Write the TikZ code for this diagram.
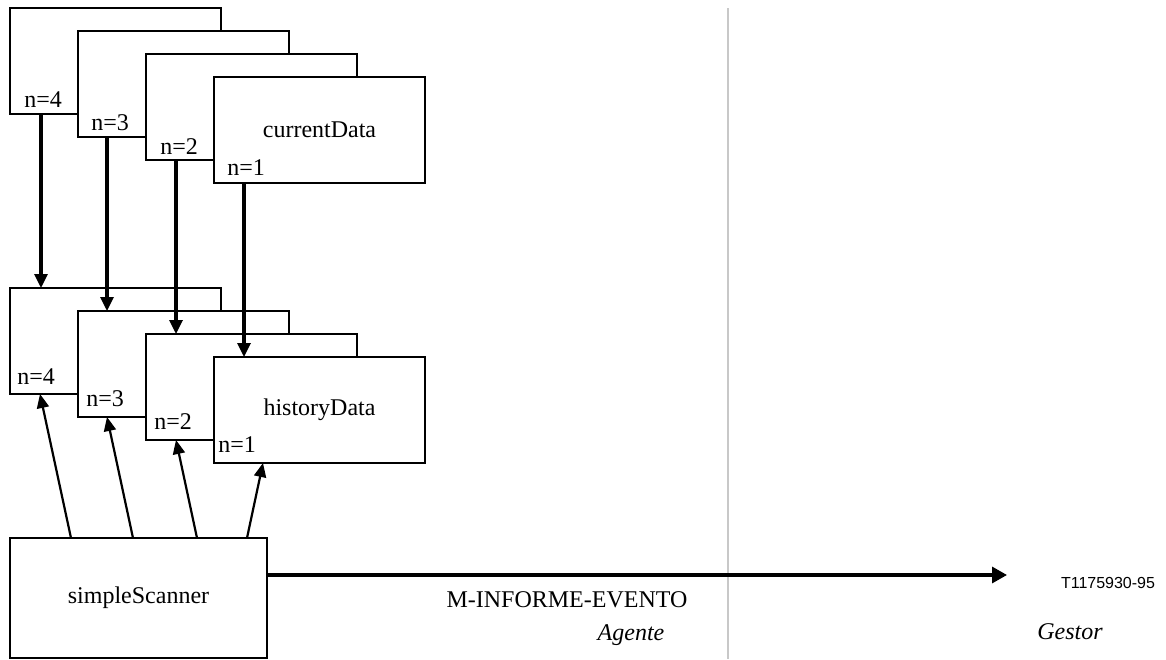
\documentclass[tikz,border=0pt]{standalone}
\usepackage{fontspec}
\setmainfont{Liberation Serif}
\newfontfamily\figsans{Liberation Sans}
\usetikzlibrary{arrows.meta}
\definecolor{divider}{RGB}{200,200,200}
\begin{document}
\begin{tikzpicture}[x=0.5pt,y=-0.5pt,
  font=\fontsize{12}{14}\selectfont,
  objbox/.style={draw, fill=white, line width=0.6pt, inner sep=0pt, outer sep=0pt,
    minimum width=105.5pt, minimum height=53pt},
  scanbox/.style={draw, fill=white, line width=0.6pt, inner sep=0pt, outer sep=0pt,
    minimum width=128.5pt, minimum height=60pt},
  idx/.style={anchor=west, inner sep=0pt},
  downarrow/.style={line width=1.6pt, -{Triangle[length=7pt,width=6.5pt]}},
  uparrow/.style={line width=1.1pt, -{Triangle[length=7pt,width=6pt]}},
  eventarrow/.style={line width=1.6pt, -{Triangle[length=7.5pt,width=8pt]}}]
\useasboundingbox (0,0) rectangle (1166,659);

% instances of currentData, oldest at the back
\node[objbox] (c4) at (115.5,61) {};
\node[idx] (c4n) at ([xshift=7pt,yshift=7pt]c4.south west) {n=4};
\node[objbox] (c3) at (183.5,84) {};
\node[idx] (c3n) at ([xshift=6.5pt,yshift=7pt]c3.south west) {n=3};
\node[objbox] (c2) at (251.5,107) {};
\node[idx] (c2n) at ([xshift=7pt,yshift=6.5pt]c2.south west) {n=2};
\node[objbox] (c1) at (319.5,130) {currentData};
\node[idx] (c1n) at ([xshift=6.5pt,yshift=7.5pt]c1.south west) {n=1};

% instances of historyData
\node[objbox] (h4) at (115.5,341) {};
\node[idx] (h4n) at ([xshift=3.5pt,yshift=8.5pt]h4.south west) {n=4};
\node[objbox] (h3) at (183.5,364) {};
\node[idx] (h3n) at ([xshift=4pt,yshift=9pt]h3.south west) {n=3};
\node[objbox] (h2) at (251.5,387) {};
\node[idx] (h2n) at ([xshift=4pt,yshift=9pt]h2.south west) {n=2};
\node[objbox] (h1) at (319.5,410) {historyData};
\node[idx] (h1n) at ([xshift=2pt,yshift=9pt]h1.south west) {n=1};

% scanner
\node[scanbox] (scan) at (138.5,598) {simpleScanner};

% copy current values into history
\draw[downarrow] ([xshift=15.5pt]c4.south west) -- ([xshift=15.5pt]h4.north west);
\draw[downarrow] ([xshift=14.5pt]c3.south west) -- ([xshift=14.5pt]h3.north west);
\draw[downarrow] ([xshift=15pt]c2.south west) -- ([xshift=15pt]h2.north west);
\draw[downarrow] ([xshift=15pt]c1.south west) -- ([xshift=15pt]h1.north west);

% scanner reads the history instances
\draw[uparrow] ([xshift=30.5pt]scan.north west) -- ([xshift=15pt]h4.south west);
\draw[uparrow] ([xshift=61.5pt]scan.north west) -- ([xshift=14.5pt]h3.south west);
\draw[uparrow] ([xshift=93.5pt]scan.north west) -- ([xshift=15pt]h2.south west);
\draw[uparrow] ([xshift=118.5pt]scan.north west) -- ([xshift=24.5pt]h1.south west);

% agent / manager boundary
\coordinate (divtop) at (728,8);
\coordinate (divbot) at (728,659);
\draw[divider, line width=1.25pt] (divtop) -- (divbot);

% event report
\coordinate (evstart) at ([yshift=-18.5pt]scan.north east);
\coordinate (evend) at (1007,575);
\draw[eventarrow] (evstart) -- (evend |- evstart);

\node (evlabel) at (567,600) {M-INFORME-EVENTO};
\node (agente) at (631,635) {\itshape Agente};
\node (gestor) at (1070,632) {\itshape Gestor};
\node (figid) at (1108,583) {\figsans\fontsize{8}{10}\selectfont T1175930-95};
\end{tikzpicture}
\end{document}
